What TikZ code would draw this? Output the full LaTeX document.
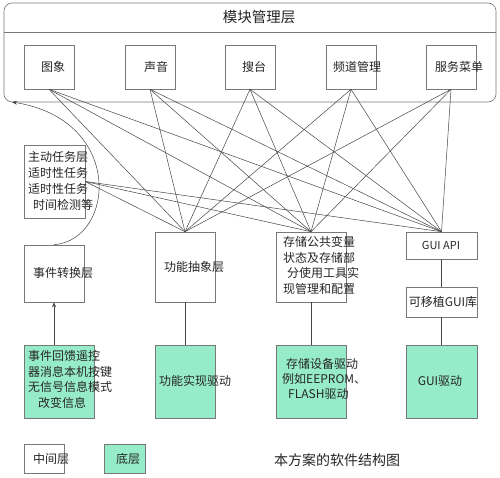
\documentclass[tikz,border=0pt]{standalone}
\usepackage{fontspec}
\newfontfamily\cjk{Noto Sans CJK SC}
\usetikzlibrary{arrows.meta}
\definecolor{mint}{RGB}{150,236,200}
\definecolor{edgegray}{RGB}{120,120,120}
\definecolor{wiregray}{RGB}{70,70,70}
\begin{document}
\begin{tikzpicture}[x=1pt,y=-1pt,
  box/.style={draw=edgegray, line width=0.6pt, rectangle, inner sep=0pt},
  low/.style={box, fill=mint},
  txt/.style={font=\cjk\fontsize{12}{16}\selectfont, inner sep=0pt, text=black!85},
  mtxt/.style={txt, align=left, anchor=north west},
  wire/.style={draw=wiregray, line width=0.5pt}]
\useasboundingbox (0,0) rectangle (500,478);
\fill[white] (0,0) rectangle (500,478);

% module management layer
\node[box, rounded corners=8pt, minimum width=492pt, minimum height=99pt] (mgr) at (250,52.5) {};
\coordinate (divl) at (4,32);
\coordinate (divr) at (496,32);
\draw[box] (divl) -- (divr);
\node[txt, font=\cjk\fontsize{14.5}{16}\selectfont] (title) at (259,17) {模块管理层};

\node[box, minimum width=50pt, minimum height=44pt] (img)  at (49,67) {};
\node[box, minimum width=50pt, minimum height=44pt] (snd)  at (150,67) {};
\node[box, minimum width=50pt, minimum height=44pt] (srch) at (250,67) {};
\node[box, minimum width=50pt, minimum height=44pt] (chn)  at (351,67) {};
\node[box, minimum width=50pt, minimum height=44pt] (svc)  at (451,67) {};
\node[txt] (timg)  at (53,67) {图象};
\node[txt] (tsnd)  at (156,67) {声音};
\node[txt] (tsrch) at (254,67) {搜台};
\node[txt] (tchn)  at (357,67) {频道管理};
\node[txt] (tsvc)  at (459,67) {服务菜单};

% middle layer
\node[box, minimum width=61pt, minimum height=73pt] (task) at (54.5,181.5) {};
\node[mtxt] (ttask) at (28,151.5) {主动任务层\\适时性任务\\适时性任务\\\hspace{5pt}时间检测等};

\node[box, minimum width=60pt, minimum height=57pt] (evtconv) at (54,273.5) {};
\node[txt] (tevtconv) at (63,273) {事件转换层};

\node[box, minimum width=60pt, minimum height=70pt] (func) at (185,267) {};
\node[txt] (tfunc) at (194,267) {功能抽象层};

\node[box, minimum width=70pt, minimum height=70pt] (stor) at (311,267) {};
\node[mtxt, font=\cjk\fontsize{12}{15.5}\selectfont] (tstor) at (283,236.5) {存储公共变量\\状态及存储部\\\hspace{4pt}分使用工具实\\现管理和配置};

\node[box, minimum width=71pt, minimum height=27pt] (gui) at (441.5,245.5) {};
\node[txt, font=\cjk\fontsize{11}{13}\selectfont] (tgui) at (441,245.5) {GUI API};

\node[box, minimum width=71pt, minimum height=30pt] (lib) at (441.5,302) {};
\node[txt] (tlib) at (443,302) {可移植GUI库};

% bottom layer
\node[low, minimum width=70pt, minimum height=73pt] (evt) at (59,381.5) {};
\node[mtxt, font=\cjk\fontsize{12}{15.5}\selectfont] (tevt) at (28,350.5) {事件回馈遥控\\器消息本机按键\\无信号信息模式\\\hspace{10pt}改变信息};

\node[low, minimum width=60pt, minimum height=73pt] (fdrv) at (185,381.5) {};
\node[txt] (tfdrv) at (195,381) {功能实现驱动};

\node[low, minimum width=70pt, minimum height=73pt] (sdrv) at (311,381.5) {};
\node[mtxt, font=\cjk\fontsize{12}{15}\selectfont] (tsdrv) at (282,358.5) {\hspace{4pt}存储设备驱动\\例如EEPROM、\\\hspace{6pt}FLASH驱动};

\node[low, minimum width=71pt, minimum height=73pt] (gdrv) at (441.5,381.5) {};
\node[txt] (tgdrv) at (440,381) {GUI驱动};

% legend and caption
\node[box, minimum width=40pt, minimum height=29pt] (legmid) at (44,458.5) {};
\node[txt, anchor=west] (tlegmid) at (33,459) {中间层};
\node[low, minimum width=41pt, minimum height=29pt] (leglow) at (124.5,458.5) {};
\node[txt] (tleglow) at (128,459) {底层};
\node[txt, font=\cjk\fontsize{14}{16}\selectfont] (caption) at (337,460) {本方案的软件结构图};

% connectors from top modules
\foreach \t in {img,snd,srch,chn,svc}{
  \foreach \b in {func,stor,gui}{
    \draw[wire] (\t.south) -- (\b.north);
  }
}
\draw[wire] (task.east) -- (func.north);
\draw[wire] (task.east) -- (stor.north);
\draw[wire] (task.east) -- (gui.north);

% vertical links
\draw[wire] (func.south) -- (fdrv.north);
\draw[wire] (stor.south) -- (sdrv.north);
\draw[wire] (gui.south) -- (lib.north);
\draw[wire] (lib.south) -- (gdrv.north);
\draw[wire, -{Stealth[length=5pt,width=4pt]}] (evtconv.south |- evt.north) -- (evtconv.south);

% curved arrow back to module layer
\coordinate (tip) at (12,102);
\draw[wire, -{Stealth[length=5pt,width=4pt]}] (evtconv.north) .. controls (115,240) and (125,120) .. (tip);
\end{tikzpicture}
\end{document}
